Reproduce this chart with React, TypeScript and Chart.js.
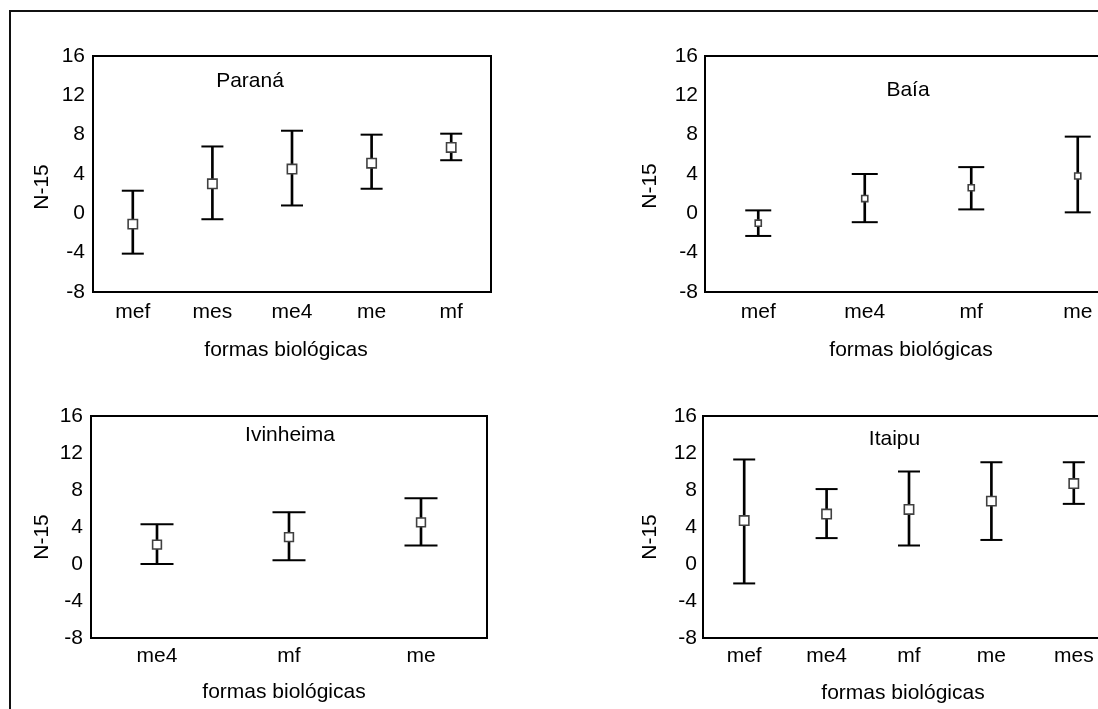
import React, { useEffect, useRef } from "react";
import { Chart, registerables } from "chart.js";

Chart.register(...registerables);

// ---------- data ----------
const parCategories = ["mef", "mes", "me4", "me", "mf"];
const parMeans = [-1.1, 3.0, 4.5, 5.1, 6.7];
const parUpper = [2.3, 6.8, 8.4, 8.0, 8.1];
const parLower = [-4.1, -0.6, 0.8, 2.5, 5.4];

const baiaCategories = ["mef", "me4", "mf", "me"];
const baiaMeans = [-1.0, 1.5, 2.6, 3.8];
const baiaUpper = [0.3, 4.0, 4.7, 7.8];
const baiaLower = [-2.3, -0.9, 0.4, 0.1];

const ivCategories = ["me4", "mf", "me"];
const ivMeans = [2.1, 2.9, 4.5];
const ivUpper = [4.3, 5.6, 7.1];
const ivLower = [0.0, 0.4, 2.0];

const itCategories = ["mef", "me4", "mf", "me", "mes"];
const itMeans = [4.7, 5.4, 5.9, 6.8, 8.7];
const itUpper = [11.3, 8.1, 10.0, 11.0, 11.0];
const itLower = [-2.1, 2.8, 2.0, 2.6, 6.5];

const yTicks = [-8, -4, 0, 4, 8, 12, 16];
const xTitle = "formas biológicas";
const yTitle = "N-15";

const FONT = '"Liberation Sans", Arial, Helvetica, sans-serif';
const FS = 21;

// ---------- plugin: plot frame, inner title, axis titles ----------
const panelPlugin = {
  id: "panelDeco",
  afterDraw(chart: any, _args: any, opts: any) {
    const { ctx, chartArea: a } = chart;
    ctx.save();
    ctx.strokeStyle = "#000";
    ctx.lineWidth = 2;
    ctx.strokeRect(a.left, a.top, a.right - a.left, a.bottom - a.top);
    ctx.font = `${FS}px ${FONT}`;
    ctx.fillStyle = "#000";
    ctx.textAlign = "center";
    ctx.textBaseline = "middle";
    ctx.fillText(opts.title, a.left + opts.dx, a.top + opts.dy);
    ctx.fillText(opts.xTitle, a.left + opts.xtx, a.bottom + opts.xty);
    ctx.translate(a.left + opts.ytx, a.top + opts.yty);
    ctx.rotate(-Math.PI / 2);
    ctx.fillText(opts.yTitle, 0, 0);
    ctx.restore();
  },
};

type Panel = {
  title: string;
  categories: string[];
  means: number[];
  upper: number[];
  lower: number[];
  left: number;
  top: number;
  width: number;
  height: number;
  ly: number;
  pt: number;
  pr: number;
  hx: number;
  tickPadY: number;
  tickPadX: number;
  capR: number;
  meanR: number;
  dx: number;
  dy: number;
  xtx: number;
  xty: number;
  ytx: number;
  yty: number;
};

const panels: Panel[] = [
  {
    title: "Paraná", categories: parCategories, means: parMeans, upper: parUpper, lower: parLower,
    left: 10, top: 20, width: 531, height: 352, ly: 83, pt: 36, pr: 50, hx: 80,
    tickPadY: 8, tickPadX: 8, capR: 11, meanR: 6.6, dx: 157, dy: 25, xtx: 193, xty: 58, ytx: -51, yty: 131,
  },
  {
    title: "Baía", categories: baiaCategories, means: baiaMeans, upper: baiaUpper, lower: baiaLower,
    left: 622, top: 20, width: 559, height: 352, ly: 83, pt: 36, pr: 50, hx: 80,
    tickPadY: 7, tickPadX: 8, capR: 13, meanR: 4.3, dx: 203, dy: 34, xtx: 206, xty: 58, ytx: -55, yty: 130,
  },
  {
    title: "Ivinheima", categories: ivCategories, means: ivMeans, upper: ivUpper, lower: ivLower,
    left: 8, top: 380, width: 529, height: 338, ly: 83, pt: 36, pr: 50, hx: 80,
    tickPadY: 8, tickPadX: 6, capR: 16.5, meanR: 6.2, dx: 199, dy: 19, xtx: 193, xty: 54, ytx: -49, yty: 121,
  },
  {
    title: "Itaipu", categories: itCategories, means: itMeans, upper: itUpper, lower: itLower,
    left: 620, top: 380, width: 545, height: 338, ly: 83, pt: 36, pr: 50, hx: 80,
    tickPadY: 6, tickPadX: 6, capR: 11, meanR: 6.6, dx: 191.5, dy: 23.5, xtx: 200, xty: 55, ytx: -53, yty: 121,
  },
];

function ErrorPanel({ p }: { p: Panel }) {
  const ref = useRef<HTMLCanvasElement | null>(null);
  useEffect(() => {
    if (!ref.current) return;
    const chart = new Chart(ref.current, {
      type: "bar",
      data: {
        labels: p.categories,
        datasets: [
          {
            type: "line",
            data: p.means,
            showLine: false,
            pointStyle: "rect",
            pointRadius: p.meanR,
            pointBackgroundColor: "#fff",
            pointBorderColor: "#404040",
            pointBorderWidth: 1.6,
            order: 0,
          } as any,
          {
            type: "line",
            data: p.upper,
            showLine: false,
            pointStyle: "line",
            pointRadius: p.capR,
            pointBorderColor: "#000",
            pointBorderWidth: 2,
            order: 1,
          } as any,
          {
            type: "line",
            data: p.lower,
            showLine: false,
            pointStyle: "line",
            pointRadius: p.capR,
            pointBorderColor: "#000",
            pointBorderWidth: 2,
            order: 1,
          } as any,
          {
            type: "bar",
            data: p.categories.map((_, i) => [p.lower[i], p.upper[i]]),
            backgroundColor: "#000",
            borderWidth: 0,
            barThickness: 2,
            order: 2,
          } as any,
        ],
      },
      options: {
        responsive: false,
        animation: false,
        events: [],
        devicePixelRatio: 1,
        layout: { padding: { top: p.pt, right: p.pr, left: 0, bottom: 0 } },
        plugins: {
          legend: { display: false },
          tooltip: { enabled: false },
          panelDeco: {
            title: p.title, dx: p.dx, dy: p.dy,
            xTitle, xtx: p.xtx, xty: p.xty,
            yTitle, ytx: p.ytx, yty: p.yty,
          },
        } as any,
        scales: {
          x: {
            offset: true,
            grid: { display: false, drawTicks: false },
            border: { display: false },
            ticks: { color: "#000", font: { family: FONT, size: FS }, padding: p.tickPadX, maxRotation: 0, autoSkip: false },
            title: { display: false },
            afterFit: (s: any) => { s.height = p.hx; },
          },
          y: {
            min: -8,
            max: 16,
            grid: { display: false, drawTicks: false },
            border: { display: false },
            ticks: { color: "#000", font: { family: FONT, size: FS }, padding: p.tickPadY },
            title: { display: false },
            afterBuildTicks: (s: any) => { s.ticks = yTicks.map((v) => ({ value: v })); },
            afterFit: (s: any) => { s.width = p.ly; },
          },
        },
      } as any,
      plugins: [panelPlugin],
    });
    return () => chart.destroy();
  }, [p]);
  return (
    <canvas
      ref={ref}
      width={p.width}
      height={p.height}
      style={{ position: "absolute", left: p.left, top: p.top, width: p.width, height: p.height }}
    />
  );
}

export default function App() {
  return (
    <div
      style={{
        position: "fixed",
        left: 0,
        top: 0,
        width: 1098,
        height: 709,
        overflow: "hidden",
        background: "#fff",
      }}
    >
      <div
        style={{
          position: "absolute",
          left: 9,
          top: 10,
          width: 2000,
          height: 2000,
          borderTop: "2px solid #111",
          borderLeft: "2px solid #111",
        }}
      />
      {panels.map((p) => (
        <ErrorPanel key={p.title} p={p} />
      ))}
    </div>
  );
}
